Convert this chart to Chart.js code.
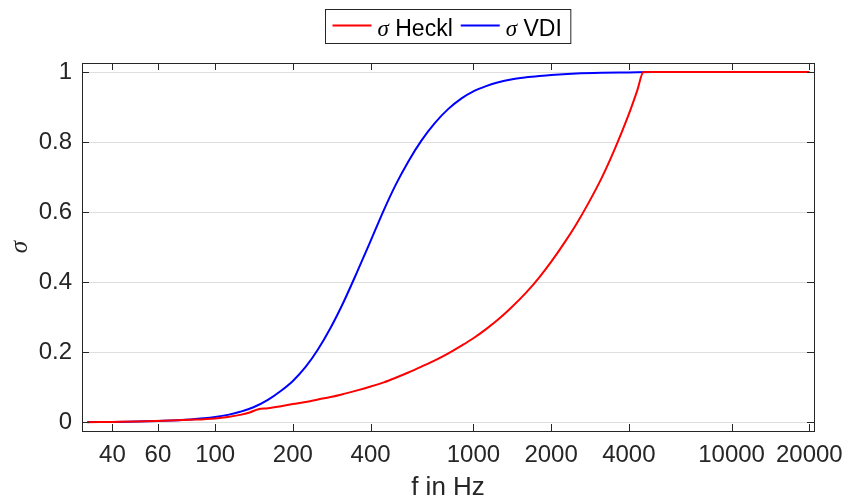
<!DOCTYPE html>
<html>
<head>
<meta charset="utf-8">
<script src="https://cdn.jsdelivr.net/npm/chart.js@4/dist/chart.umd.min.js"></script>
<style>
  html, body { margin: 0; padding: 0; background: #fff; }
  #wrap { width: 848px; height: 501px; }
</style>
</head>
<body>
<div id="wrap"><canvas id="sigma-chart" width="848" height="501"></canvas></div>
<script>
// x-Achse (Frequenz) und Ticks
const xTicks = [40, 60, 100, 200, 400, 1000, 2000, 4000, 10000, 20000];
const yTicks = [0, 0.2, 0.4, 0.6, 0.8, 1];

// sigma Heckl (rot)
const hecklFreq  = [32, 40, 50, 63, 80, 100, 112, 125, 136, 147, 160, 180, 200, 224, 250, 280, 315, 355, 400, 450, 500, 560, 630, 710, 800, 900, 1000, 1120, 1250, 1400, 1600, 1800, 2000, 2240, 2500, 2800, 3150, 3550, 4000, 4300, 4560, 5000, 10000, 20000];
const hecklSigma = [0, 0.001, 0.002, 0.004, 0.007, 0.011, 0.015, 0.021, 0.028, 0.037, 0.040, 0.046, 0.052, 0.058, 0.065, 0.072, 0.081, 0.091, 0.102, 0.114, 0.127, 0.142, 0.159, 0.177, 0.197, 0.219, 0.240, 0.266, 0.294, 0.327, 0.370, 0.414, 0.458, 0.51, 0.565, 0.628, 0.70, 0.785, 0.88, 0.945, 1, 1, 1, 1];

// sigma VDI (blau)
const vdiFreq  = [32, 40, 50, 63, 80, 100, 112, 125, 140, 160, 180, 200, 224, 250, 280, 315, 355, 400, 450, 500, 560, 630, 710, 800, 900, 1000, 1120, 1250, 1400, 1600, 1800, 2000, 2500, 3150, 4000, 5000, 8000, 12500, 20000];
const vdiSigma = [0.001, 0.001, 0.002, 0.004, 0.008, 0.015, 0.021, 0.03, 0.042, 0.064, 0.09, 0.118, 0.158, 0.208, 0.27, 0.345, 0.43, 0.518, 0.606, 0.678, 0.745, 0.805, 0.855, 0.895, 0.925, 0.945, 0.96, 0.971, 0.979, 0.985, 0.989, 0.992, 0.996, 0.998, 0.999, 1, 1, 1, 1];

const axisColor = '#262626';
const fontFamily = "'Liberation Sans', Arial, sans-serif";
const greekFont = "italic 23px 'Liberation Serif', 'DejaVu Serif', serif";

function toPoints(xs, ys) {
    return xs.map((x, i) => ({ x: x, y: ys[i] }));
}

// Rahmen + Ticks nach innen (MATLAB-Stil)
const boxPlugin = {
    id: 'boxTicks',
    afterDraw(chart) {
        const { ctx, chartArea: a, scales } = chart;
        const len = 7;
        ctx.save();
        ctx.strokeStyle = axisColor;
        ctx.lineWidth = 1;
        ctx.beginPath();
        xTicks.forEach(v => {
            const px = Math.round(scales.x.getPixelForValue(v)) + 0.5;
            ctx.moveTo(px, a.bottom); ctx.lineTo(px, a.bottom - len);
            ctx.moveTo(px, a.top); ctx.lineTo(px, a.top + len);
        });
        yTicks.forEach(v => {
            const py = Math.round(scales.y.getPixelForValue(v)) + 0.5;
            ctx.moveTo(a.left, py); ctx.lineTo(a.left + len, py);
            ctx.moveTo(a.right, py); ctx.lineTo(a.right - len, py);
        });
        ctx.stroke();
        ctx.strokeRect(Math.round(a.left) + 0.5, Math.round(a.top) + 0.5,
            Math.round(a.right - a.left), Math.round(a.bottom - a.top));
        ctx.restore();
    }
};

// Legende mit Rahmen oben, "σ" kursiv wie im MATLAB-Original
const legendPlugin = {
    id: 'boxLegend',
    afterDraw(chart) {
        const ctx = chart.ctx;
        const a = chart.chartArea;
        const sets = chart.data.datasets;
        const textFont = '23px ' + fontFamily;
        ctx.save();
        const parts = sets.map(ds => {
            const greek = ds.label.slice(0, 1);
            const rest = ds.label.slice(1);
            ctx.font = greekFont;
            const gw = ctx.measureText(greek).width;
            ctx.font = textFont;
            const rw = ctx.measureText(rest).width;
            return { greek, rest, gw, rw, color: ds.borderColor };
        });
        const lineLen = 39, padL = 7, gapLine = 6, gapItem = 8, padR = 9;
        let total = padL + padR;
        parts.forEach((p, i) => {
            total += lineLen + gapLine + p.gw + p.rw;
            if (i < parts.length - 1) total += gapItem;
        });
        const top = 9.5, h = 34;
        const left = Math.round((a.left + a.right) / 2 - total / 2) + 0.5;
        ctx.fillStyle = '#fff';
        ctx.fillRect(left, top, total, h);
        ctx.strokeStyle = axisColor;
        ctx.lineWidth = 1;
        ctx.strokeRect(left, top, total, h);
        let x = left + padL;
        const midY = top + h / 2;
        parts.forEach(p => {
            ctx.strokeStyle = p.color;
            ctx.lineWidth = 2;
            ctx.beginPath();
            ctx.moveTo(x, midY - 1);
            ctx.lineTo(x + lineLen, midY - 1);
            ctx.stroke();
            x += lineLen + gapLine;
            ctx.fillStyle = '#000';
            ctx.textBaseline = 'alphabetic';
            ctx.font = greekFont;
            ctx.fillText(p.greek, x, midY + 9);
            x += p.gw;
            ctx.font = textFont;
            ctx.fillText(p.rest, x, midY + 9);
            x += p.rw + gapItem;
        });
        ctx.restore();
    }
};

new Chart(document.getElementById('sigma-chart'), {
    type: 'line',
    data: {
        datasets: [{
            label: 'σ Heckl',
            data: toPoints(hecklFreq, hecklSigma),
            borderColor: '#ff0000',
            borderWidth: 2,
            pointRadius: 0,
            cubicInterpolationMode: 'monotone'
        }, {
            label: 'σ VDI',
            data: toPoints(vdiFreq, vdiSigma),
            borderColor: '#0000ff',
            borderWidth: 2,
            pointRadius: 0,
            cubicInterpolationMode: 'monotone'
        }]
    },
    options: {
        responsive: false,
        animation: false,
        devicePixelRatio: 1,
        layout: { padding: { top: 63, right: 34, left: 0, bottom: 0 } },
        plugins: {
            legend: { display: false },
            tooltip: { enabled: false }
        },
        scales: {
            x: {
                type: 'logarithmic',
                min: 30.5,
                max: 20850,
                afterBuildTicks: scale => { scale.ticks = xTicks.map(v => ({ value: v })); },
                afterFit: scale => {
                    scale.height = 70;
                    scale.paddingLeft = 0;
                    scale.paddingRight = 0;
                },
                grid: { display: false, drawTicks: false },
                border: { display: false },
                ticks: {
                    autoSkip: false,
                    maxRotation: 0,
                    padding: 10,
                    color: axisColor,
                    font: { family: fontFamily, size: 24 },
                    callback: v => String(v)
                },
                title: {
                    display: true,
                    text: 'f in Hz',
                    color: axisColor,
                    font: { family: fontFamily, size: 26 },
                    padding: { top: 0, bottom: -2 }
                }
            },
            y: {
                type: 'linear',
                min: -0.025,
                max: 1.026,
                afterBuildTicks: scale => { scale.ticks = yTicks.map(v => ({ value: v })); },
                afterFit: scale => {
                    scale.width = 82;
                    scale.paddingTop = 0;
                    scale.paddingBottom = 0;
                },
                grid: { color: '#dedede', lineWidth: 1, drawTicks: false },
                border: { display: false },
                ticks: {
                    padding: 10,
                    color: axisColor,
                    font: { family: fontFamily, size: 24 },
                    callback: v => String(Number(v.toFixed(1)))
                },
                title: {
                    display: true,
                    text: 'σ',
                    color: axisColor,
                    font: { family: "'Liberation Serif', 'DejaVu Serif', serif", size: 25, style: 'italic' },
                    padding: { top: 5, bottom: 0 }
                }
            }
        }
    },
    plugins: [boxPlugin, legendPlugin]
});
</script>
</body>
</html>
